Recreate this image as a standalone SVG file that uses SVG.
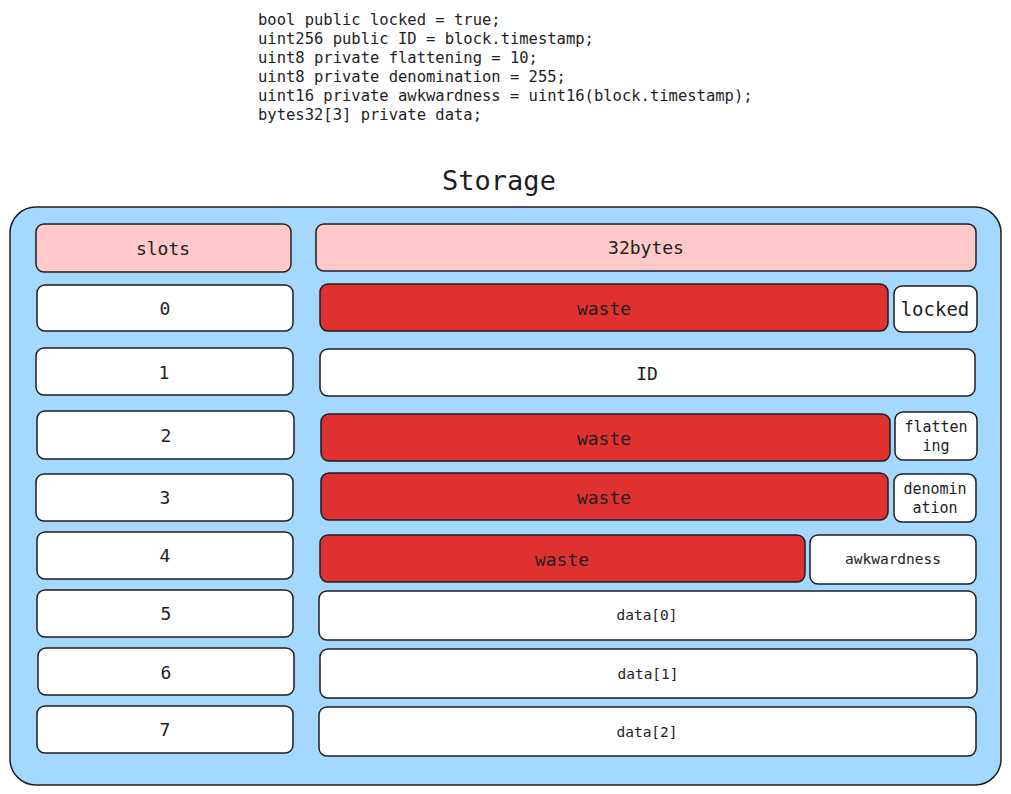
<svg xmlns="http://www.w3.org/2000/svg" width="1011" height="794" viewBox="0 0 1011 794">
<style>
.code{font-family:"DejaVu Sans Mono","Liberation Mono",monospace;font-size:15.5px;fill:#1e1e1e}
.t{font-family:"DejaVu Sans Mono","Liberation Mono",monospace;fill:#1e1e1e;text-anchor:middle;dominant-baseline:central}
.box{stroke:#1e1e1e;stroke-width:1.5}
.w{fill:#ffffff}
.r{fill:#e03131}
.p{fill:#ffc9c9}
</style>
<rect width="1011" height="794" fill="#ffffff"/>
<g id="code">
<text class="code" x="258" y="25">bool public locked = true;</text>
<text class="code" x="258" y="44">uint256 public ID = block.timestamp;</text>
<text class="code" x="258" y="63">uint8 private flattening = 10;</text>
<text class="code" x="258" y="82">uint8 private denomination = 255;</text>
<text class="code" x="258" y="101">uint16 private awkwardness = uint16(block.timestamp);</text>
<text class="code" x="258" y="120">bytes32[3] private data;</text>
</g>
<g id="title"><text class="t" x="499" y="180" font-size="27">Storage</text></g>
<g id="storage"><rect class="box" x="10" y="207" width="991" height="578" rx="26" fill="#a5d8ff"/></g>
<g id="slots-header"><rect class="box p" x="36" y="224" width="255" height="48" rx="8"/><text class="t" x="163" y="248" font-size="18">slots</text></g>
<g id="bytes-header"><rect class="box p" x="316" y="224" width="660" height="47" rx="8"/><text class="t" x="646" y="247" font-size="18">32bytes</text></g>
<g id="slot0"><rect class="box w" x="37" y="285" width="256" height="46" rx="8"/><text class="t" x="165" y="308" font-size="18">0</text></g>
<g id="waste0"><rect class="box r" x="320" y="284" width="568" height="47" rx="8"/><text class="t" x="604" y="308" font-size="18">waste</text></g>
<g id="locked"><rect class="box w" x="894" y="286" width="83" height="46" rx="8"/><text class="t" x="935" y="309" font-size="19">locked</text></g>
<g id="slot1"><rect class="box w" x="36" y="348" width="257" height="47" rx="8"/><text class="t" x="164" y="372" font-size="18">1</text></g>
<g id="id"><rect class="box w" x="320" y="349" width="655" height="47" rx="8"/><text class="t" x="647" y="373" font-size="18">ID</text></g>
<g id="slot2"><rect class="box w" x="37" y="411" width="257" height="48" rx="8"/><text class="t" x="166" y="435" font-size="18">2</text></g>
<g id="waste2"><rect class="box r" x="321" y="414" width="569" height="47" rx="8"/><text class="t" x="604" y="438" font-size="18">waste</text></g>
<g id="flattening"><rect class="box w" x="895" y="412" width="82" height="48" rx="8"/><text class="t" x="936" y="427" font-size="15">flatten</text><text class="t" x="936" y="446" font-size="15">ing</text></g>
<g id="slot3"><rect class="box w" x="36" y="474" width="257" height="47" rx="8"/><text class="t" x="165" y="497" font-size="18">3</text></g>
<g id="waste3"><rect class="box r" x="321" y="473" width="567" height="47" rx="8"/><text class="t" x="604" y="497" font-size="18">waste</text></g>
<g id="denomination"><rect class="box w" x="894" y="474" width="82" height="48" rx="8"/><text class="t" x="935" y="489" font-size="15">denomin</text><text class="t" x="935" y="508" font-size="15">ation</text></g>
<g id="slot4"><rect class="box w" x="37" y="532" width="256" height="47" rx="8"/><text class="t" x="165" y="555" font-size="18">4</text></g>
<g id="waste4"><rect class="box r" x="320" y="535" width="485" height="47" rx="8"/><text class="t" x="562" y="559" font-size="18">waste</text></g>
<g id="awkwardness"><rect class="box w" x="810" y="535" width="166" height="49" rx="8"/><text class="t" x="893" y="559" font-size="14.5">awkwardness</text></g>
<g id="slot5"><rect class="box w" x="37" y="590" width="256" height="47" rx="8"/><text class="t" x="166" y="613" font-size="18">5</text></g>
<g id="data0"><rect class="box w" x="319" y="591" width="657" height="49" rx="8"/><text class="t" x="647" y="615" font-size="14.5">data[0]</text></g>
<g id="slot6"><rect class="box w" x="38" y="648" width="256" height="47" rx="8"/><text class="t" x="166" y="672" font-size="18">6</text></g>
<g id="data1"><rect class="box w" x="320" y="649" width="657" height="49" rx="8"/><text class="t" x="648" y="674" font-size="14.5">data[1]</text></g>
<g id="slot7"><rect class="box w" x="37" y="706" width="256" height="47" rx="8"/><text class="t" x="165" y="729" font-size="18">7</text></g>
<g id="data2"><rect class="box w" x="319" y="707" width="657" height="49" rx="8"/><text class="t" x="647" y="732" font-size="14.5">data[2]</text></g>
<g id="connectors"/>
</svg>
